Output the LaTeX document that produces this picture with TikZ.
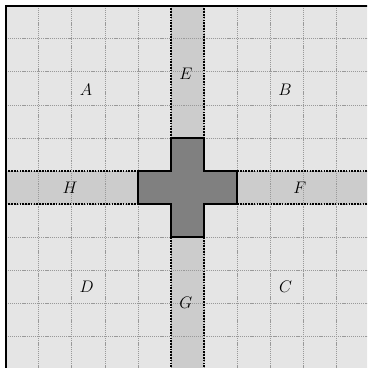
\documentclass[tikz,border=0pt]{standalone}
\begin{document}
\begin{tikzpicture}[
  gridline/.style={draw=gray!80, line width=0.5pt, dash pattern=on 1pt off 0.8pt},
  stripedge/.style={draw=black, line width=1.5pt, dash pattern=on 1.4pt off 1pt},
  lab/.style={font=\fontsize{15.5}{18}\selectfont\itshape, inner sep=0pt}
]
\useasboundingbox (-0.17,0.17) rectangle (10.93,-10.96);
\clip (-0.17,0.17) rectangle (10.93,-10.96);
\fill[white] (-0.17,0.17) rectangle (10.93,-10.96);
% background
\fill[black!10] (0,0) rectangle (12,-12);
% strips
\fill[black!20] (5,0) rectangle (6,-12);
\fill[black!20] (0,-5) rectangle (12,-6);
% grid
\foreach \i in {1,...,11} {
  \draw[gridline] (\i,0) -- (\i,-12);
  \draw[gridline] (0,-\i) -- (12,-\i);
}
% strip edges
\draw[stripedge] (5,0) -- (5,-12);
\draw[stripedge] (6,0) -- (6,-12);
\draw[stripedge] (0,-5) -- (12,-5);
\draw[stripedge] (0,-6) -- (12,-6);
% border
\draw[line width=1.9pt] (0,-12) -- (0,0) -- (12,0);
% cross
\draw[fill=black!50, line width=1.8pt]
  (5,-4) -- (6,-4) -- (6,-5) -- (7,-5) -- (7,-6) -- (6,-6) -- (6,-7)
  -- (5,-7) -- (5,-6) -- (4,-6) -- (4,-5) -- (5,-5) -- cycle;
% labels
\node[lab] (A) at (2.43,-2.55) {$A$};
\node[lab] (B) at (8.45,-2.55) {$B$};
\node[lab] (C) at (8.47,-8.5) {$C$};
\node[lab] (D) at (2.45,-8.5) {$D$};
\node[lab] (E) at (5.45,-2.05) {$E$};
\node[lab] (F) at (8.9,-5.52) {$F$};
\node[lab] (G) at (5.45,-9.0) {$G$};
\node[lab] (H) at (1.95,-5.52) {$H$};
\end{tikzpicture}
\end{document}
